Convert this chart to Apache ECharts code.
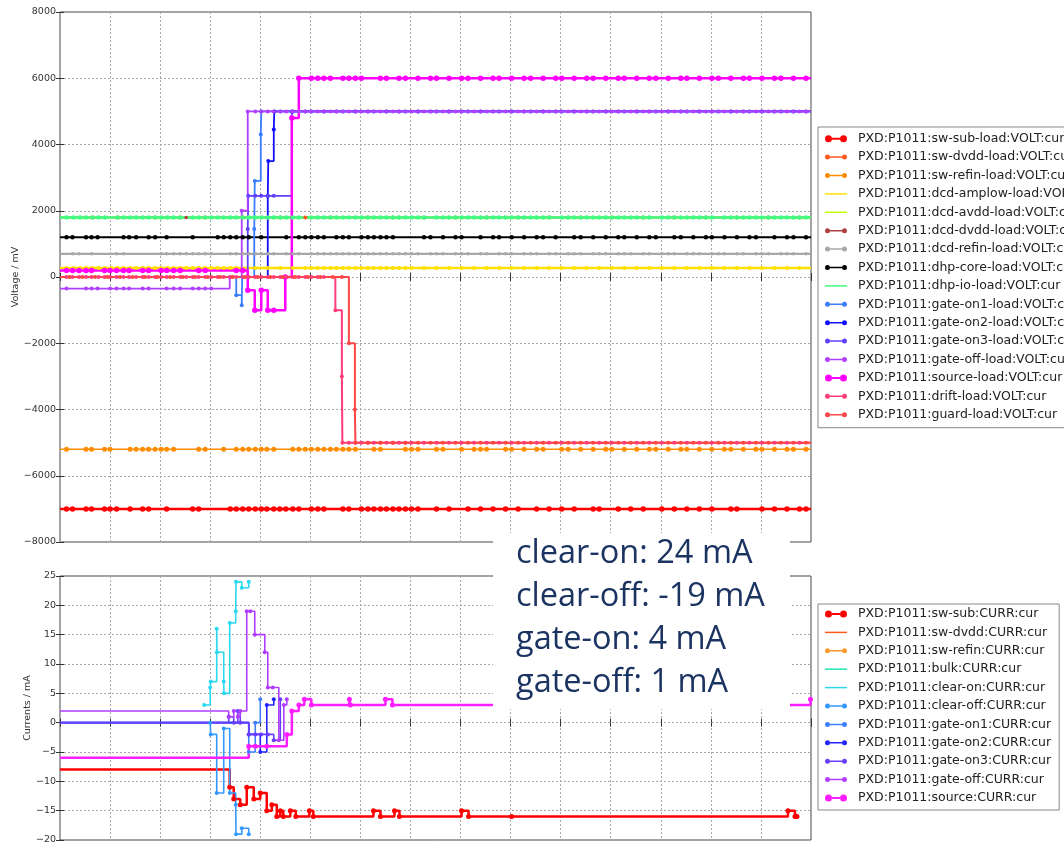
<!DOCTYPE html>
<html>
<head>
<meta charset="utf-8">
<script src="https://cdn.jsdelivr.net/npm/echarts@6/dist/echarts.min.js"></script>
<style>
html,body{margin:0;padding:0;background:#fff;}
#chart{width:1064px;height:846px;}
</style>
</head>
<body>
<div id="chart"></div>
<script>
// Time axis runs in grid divisions (0..15); its labels are hidden.
const X_MIN = 0, X_MAX = 15;

// ---------- Voltage channels (mV): runs of [level, sample times] ----------
const swSubVolt = [[-7000, [0,0.13,0.25,0.52,0.63,0.89,1.0,1.13,1.4,1.65,1.77,2.13,2.65,2.77,3.4,3.52,3.65,3.77,3.9,4.02,4.13,4.27,4.39,4.51,4.65,4.77,5.02,5.15,5.27,5.65,5.77,6.02,6.15,6.27,6.4,6.52,6.65,6.77,6.9,7.02,7.15,7.52,7.77,8.15,8.4,8.65,8.9,9.15,9.52,9.77,10.02,10.27,10.65,10.77,11.15,11.4,11.65,12.02,12.27,12.52,12.77,13.02,13.4,13.52,14.02,14.27,14.52,14.77,14.9]]];
const swDvddVolt = [[1800, [0,0.65,1.15,1.9,2.4,2.9,3.65,4.4,4.9,5.4,6.15,6.65,7.27,7.9,8.52,9.15,9.77,10.4,11.02,11.65,12.27,12.9,13.52,14.15,14.77]]];
const swRefinVolt = [[-5200, [0,0.13,0.52,0.63,0.89,1.0,1.4,1.52,1.65,1.77,1.9,2.02,2.13,2.27,2.77,2.9,3.27,3.52,3.65,3.77,3.9,4.02,4.13,4.27,4.65,4.77,4.9,5.02,5.15,5.27,5.4,5.52,5.65,5.77,5.9,6.27,6.4,6.9,7.02,7.15,7.52,7.65,8.02,8.27,8.4,8.52,8.9,9.02,9.27,9.52,9.65,10.02,10.15,10.4,10.65,10.9,11.02,11.27,11.52,11.77,11.9,12.15,12.4,12.52,12.77,13.02,13.27,13.4,13.65,13.9,14.02,14.27,14.52,14.65,14.9]]];
const dcdAmplowVolt = [[270, [0,0.13,0.27,0.4,0.52,0.65,0.77,0.9,1.02,1.15,1.27,1.4,1.52,1.65,1.77,1.9,2.02,2.15,2.27,2.4,2.52,2.65,2.77,2.9,3.02,3.15,3.27,3.4,3.52,3.9,4.15,4.4,4.65,4.9,5.02,5.15,5.27,5.4,5.52,5.65,5.77,5.9,6.02,6.15,6.27,6.4,6.52,6.65,6.77,6.9,7.02,7.27,7.52,7.77,8.02,8.27,8.52,8.77,9.02,9.27,9.52,9.77,10.02,10.27,10.52,10.77,11.02,11.27,11.52,11.77,12.02,12.27,12.52,12.77,13.02,13.27,13.52,13.77,14.02,14.27,14.52,14.77]]];
const dcdAvddVolt = [[1800, [0,0.4,1.27,2.15,3.02,3.9,4.65,5.52,6.4,7.15,8.02,8.9,9.65,10.52,11.4,12.15,13.02,13.9,14.65]]];
const dcdDvddVolt = [[1800, [0,0.9,1.65,2.52,3.4,4.27,5.15,5.9,6.77,7.65,8.4,9.27,10.15,10.9,11.77,12.65,13.4,14.27]]];
const dcdRefinVolt = [[700, [0,0.25,0.38,0.63,1.13,1.27,2.02,2.13,2.27,2.4,2.52,2.65,2.77,2.9,3.02,3.4,3.52,3.65,3.77,3.9,4.02,4.15,4.27,4.52,4.65,4.77,5.02,5.15,5.27,5.4,5.52,5.65,5.77,5.9,6.02,6.15,6.27,6.4,6.52,6.65,6.77,6.9,7.02,7.15,7.4,7.52,7.65,7.9,8.02,8.15,8.4,8.52,8.77,8.9,9.02,9.27,9.4,9.52,9.77,9.9,10.15,10.27,10.4,10.65,10.77,10.9,11.15,11.27,11.4,11.65,11.77,12.02,12.15,12.27,12.52,12.65,12.77,13.02,13.15,13.27,13.52,13.65,13.9,14.02,14.15,14.4,14.52,14.65,14.9]]];
const dhpCoreVolt = [[1200, [0,0.13,0.25,0.52,0.63,0.75,1.27,1.38,1.52,1.77,1.9,2.13,2.65,3.15,3.27,3.4,3.52,3.65,3.77,4.02,4.52,4.77,4.9,5.02,5.15,5.27,5.52,5.65,5.77,6.02,6.15,6.27,6.4,6.52,6.65,7.27,7.4,7.65,7.9,8.02,8.4,8.65,8.77,9.02,9.27,9.52,9.65,9.9,10.27,10.4,10.65,10.9,11.15,11.27,11.52,11.77,11.9,12.27,12.4,12.65,12.9,13.02,13.27,13.52,13.77,13.9,14.27,14.52,14.65,14.9]]];
const dhpIoVolt = [[1800, [0,0.13,0.27,0.4,0.52,0.65,0.77,0.9,1.15,1.27,1.4,1.52,1.65,1.77,1.9,2.02,2.15,2.27,2.4,2.65,2.77,2.9,3.02,3.15,3.27,3.4,3.52,3.65,3.77,3.9,4.02,4.15,4.27,4.4,4.52,4.65,4.77,5.02,5.15,5.27,5.4,5.52,5.65,5.77,5.9,6.02,6.15,6.27,6.4,6.52,6.65,6.77,6.9,7.02,7.15,7.27,7.52,7.65,7.77,7.9,8.02,8.15,8.27,8.4,8.52,8.65,8.77,8.9,9.02,9.15,9.27,9.4,9.52,9.65,9.77,10.02,10.15,10.27,10.4,10.52,10.65,10.77,10.9,11.02,11.15,11.27,11.4,11.52,11.65,11.77,12.02,12.15,12.27,12.4,12.52,12.65,12.77,12.9,13.02,13.27,13.4,13.52,13.65,13.77,13.9,14.02,14.15,14.27,14.4,14.52,14.65,14.77,14.9]]];
const gateOn1Volt = [[0, [0]], [-550, [3.52]], [-850, [3.63]], [0, [3.64]], [1450, [3.88]], [2900, [3.89]], [4300, [4.01]], [5000, [4.02,4.4,5.02,5.65,6.27,6.9,7.52,8.15,8.77,9.4,10.02,10.65,11.27,11.9,12.52,13.15,13.77,14.4]]];
const gateOn2Volt = [[0, [0]], [2450, [4.15]], [3500, [4.16]], [4450, [4.27]], [5000, [4.28,4.65,5.27,5.9,6.52,7.15,7.77,8.4,9.02,9.65,10.27,10.9,11.52,12.15,12.77,13.4,14.02,14.65]]];
const gateOn3Volt = [[0, [0]], [1450, [3.75]], [2450, [3.76,3.9,4.02,4.15,4.27]], [5000, [4.63,4.9,5.52,6.15,6.77,7.4,8.02,8.65,9.27,9.9,10.52,11.15,11.77,12.4,13.02,13.65,14.27,14.9]]];
const gateOffVolt = [[-350, [0,0.13,0.52,0.63,0.75,1.0,1.13,1.27,1.38,1.65,1.77,2.13,2.27,2.4,2.65,2.77,2.9,3.02]], [0, [3.39]], [2000, [3.63]], [5000, [3.75,3.9,4.02,4.15,4.27,4.4,4.52,4.65,4.77,4.9,5.02,5.15,5.27,5.4,5.52,5.65,5.77,5.9,6.02,6.15,6.27,6.4,6.52,6.65,6.77,6.9,7.02,7.15,7.27,7.4,7.52,7.65,7.77,7.9,8.02,8.15,8.27,8.4,8.52,8.65,8.77,8.9,9.02,9.15,9.27,9.4,9.52,9.65,9.77,9.9,10.02,10.15,10.27,10.4,10.52,10.65,10.77,10.9,11.02,11.15,11.27,11.4,11.52,11.65,11.77,11.9,12.02,12.15,12.27,12.4,12.52,12.65,12.77,12.9,13.02,13.15,13.27,13.4,13.52,13.65,13.77,13.9,14.02,14.15,14.27,14.4,14.52,14.65,14.77,14.9]]];
const sourceVolt = [[200, [0,0.13,0.25,0.38,0.52,0.63,0.89,1.0,1.13,1.27,1.38,1.65,1.77,2.02,2.13,2.27,2.4,2.77,2.9,3.52,3.65]], [-400, [3.75]], [-1000, [3.89]], [-400, [4.02]], [-1000, [4.15,4.27]], [0, [4.5]], [4800, [4.63]], [6000, [4.77,5.02,5.15,5.27,5.4,5.65,5.77,5.9,6.02,6.4,6.52,6.77,6.9,7.15,7.4,7.52,7.77,8.02,8.15,8.4,8.65,8.77,9.02,9.27,9.4,9.65,9.9,10.02,10.27,10.52,10.65,10.9,11.15,11.27,11.52,11.77,11.9,12.15,12.4,12.52,12.77,13.02,13.15,13.4,13.65,13.77,14.02,14.27,14.4,14.65,14.9]]];
const driftVolt = [[0, [0,0.13,0.25,0.38,0.52,0.63,0.77,0.89,1.0,1.13,1.27,1.38,1.52,1.65,1.77,1.9,2.02,2.13,2.27,2.4,2.52,2.65,2.77,2.9,3.02,3.15,3.27,3.4,3.52,3.65,3.77,3.9,4.02,4.15,4.27,4.4,4.52,4.65,4.77,4.9,5.02,5.15,5.27]], [-1000, [5.5]], [-3000, [5.63]], [-5000, [5.64,5.77,5.9,6.02,6.15,6.27,6.4,6.52,6.65,6.77,6.9,7.02,7.27,7.52,7.77,8.02,8.27,8.52,8.77,9.02,9.27,9.52,9.77,10.02,10.27,10.52,10.77,11.02,11.27,11.52,11.77,12.02,12.27,12.52,12.77,13.02,13.27,13.52,13.77,14.02,14.27,14.52,14.77]]];
const guardVolt = [[0, [0,0.19,0.45,0.7,0.95,1.2,1.45,1.7,1.95,2.2,2.45,2.7,2.95,3.2,3.45,3.7,3.95,4.2,4.45,4.7,4.95,5.2,5.45,5.63]], [-2000, [5.77]], [-4000, [5.89]], [-5000, [5.9,6.15,6.4,6.65,6.9,7.15,7.4,7.65,7.9,8.15,8.4,8.65,8.9,9.15,9.4,9.65,9.9,10.15,10.4,10.65,10.9,11.15,11.4,11.65,11.9,12.15,12.4,12.65,12.9,13.15,13.4,13.65,13.9,14.15,14.4,14.65,14.9]]];

// ---------- Current channels (mA) ----------
const swSubCurr = [[-8, [0]], [-11, [3.39]], [-13, [3.47]], [-14, [3.6]], [-11, [3.73]], [-13, [3.87]], [-12, [4.0]], [-15, [4.13]], [-14, [4.23]], [-16, [4.33]], [-15, [4.4]], [-16, [4.46]], [-15, [4.6]], [-16, [4.71]], [-15, [4.98]], [-16, [5.06]], [-15, [6.26]], [-16, [6.4]], [-15, [6.68]], [-16, [6.78]], [-15, [8.02]], [-16, [8.16, 9.02]], [-15, [14.54]], [-16, [14.68, 14.72]]];
const swDvddCurr = [];
const swRefinCurr = [];
const bulkCurr = [];
const clearOnCurr = [[3, [2.88]], [6, [3.0]], [7, [3.01]], [16, [3.13]], [12, [3.135]], [7, [3.27]], [5, [3.275]], [17, [3.39]], [19, [3.51]], [24, [3.515]], [23, [3.63]], [24, [3.77]]];
const clearOffCurr = [[0, [3.0]], [-2, [3.01]], [-12, [3.13]], [-1, [3.27]], [-12, [3.39]], [-14, [3.51]], [-19, [3.515]], [-18, [3.63]], [-19, [3.77]]];
const gateOn1Curr = [[0, [0]], [-5, [3.77]], [0, [3.9]], [4, [4.0]]];
const gateOn2Curr = [[0, [0]], [-2, [3.77]], [-5, [4.0]], [3, [4.13]], [4, [4.27]]];
const gateOn3Curr = [[0, [0]], [1, [3.37]], [0, [3.47]], [2, [3.55]], [0, [3.6]], [-2, [3.77,3.9,4.02,4.15]], [-3, [4.27]], [4, [4.4]]];
const gateOffCurr = [[2, [0]], [1, [3.37]], [2, [3.47]], [1, [3.55]], [2, [3.6]], [19, [3.73,3.8]], [15, [3.89]], [12, [4.09]], [6, [4.15,4.25]], [-3, [4.37]], [3, [4.47]], [4, [4.53]]];
const sourceCurr = [[-6, [0]], [-4, [3.77,3.9,4.13]], [-2, [4.53]], [2, [4.63]], [3, [4.77]], [4, [4.88]], [3, [5.02]], [4, [5.78]], [3, [5.8]], [4, [6.5]], [3, [6.64]], [4, [14.99]]];

// ---------- Axis ticks ----------
const voltRange = {min: -8000, max: 8000, step: 2000};
const currRange = {min: -20, max: 25, step: 5};

// ---------- Annotation ----------
const noteLines = ['clear-on: 24 mA', 'clear-off: -19 mA', 'gate-on: 4 mA', 'gate-off: 1 mA'];

// Legend glyphs: line with end markers (large / small) or a bare line
const ICON_BIG = 'path://M0,4a3.5,3.5 0 1,0 7,0a3.5,3.5 0 1,0 -7,0Z M7,3L15,3L15,5L7,5Z M15,4a3.5,3.5 0 1,0 7,0a3.5,3.5 0 1,0 -7,0Z';
const ICON_SMALL = 'path://M0,4a2.5,2.5 0 1,0 5,0a2.5,2.5 0 1,0 -5,0Z M5,3.25L17,3.25L17,4.75L5,4.75Z M17,4a2.5,2.5 0 1,0 5,0a2.5,2.5 0 1,0 -5,0Z';
const ICON_LINE = 'path://M0,3.25L22,3.25L22,4.75L0,4.75Z';

const voltChannels = [
  ['PXD:P1011:sw-sub-load:VOLT:cur', '#ff0000', swSubVolt, 2.5, 5.5, ICON_BIG],
  ['PXD:P1011:sw-dvdd-load:VOLT:cur', '#ff5a1e', swDvddVolt, 1.5, 4, ICON_SMALL],
  ['PXD:P1011:sw-refin-load:VOLT:cur', '#ff8c00', swRefinVolt, 1.5, 5, ICON_SMALL],
  ['PXD:P1011:dcd-amplow-load:VOLT:cur', '#ffe000', dcdAmplowVolt, 2.5, 4, ICON_LINE],
  ['PXD:P1011:dcd-avdd-load:VOLT:cur', '#c0ff00', dcdAvddVolt, 1.5, 3.5, ICON_LINE],
  ['PXD:P1011:dcd-dvdd-load:VOLT:cur', '#b04040', dcdDvddVolt, 1.5, 3.5, ICON_SMALL],
  ['PXD:P1011:dcd-refin-load:VOLT:cur', '#a8a8a8', dcdRefinVolt, 2.2, 3.5, ICON_SMALL],
  ['PXD:P1011:dhp-core-load:VOLT:cur', '#000000', dhpCoreVolt, 1.8, 4.5, ICON_SMALL],
  ['PXD:P1011:dhp-io-load:VOLT:cur', '#40ff80', dhpIoVolt, 2.5, 4.5, ICON_LINE],
  ['PXD:P1011:gate-on1-load:VOLT:cur', '#3c7cff', gateOn1Volt, 1.8, 4, ICON_SMALL],
  ['PXD:P1011:gate-on2-load:VOLT:cur', '#1010ff', gateOn2Volt, 1.8, 4, ICON_SMALL],
  ['PXD:P1011:gate-on3-load:VOLT:cur', '#6040ff', gateOn3Volt, 1.8, 4, ICON_SMALL],
  ['PXD:P1011:gate-off-load:VOLT:cur', '#b040ff', gateOffVolt, 1.8, 4, ICON_SMALL],
  ['PXD:P1011:source-load:VOLT:cur', '#ff00ff', sourceVolt, 2.5, 5.5, ICON_BIG],
  ['PXD:P1011:drift-load:VOLT:cur', '#ff3c78', driftVolt, 2, 4, ICON_SMALL],
  ['PXD:P1011:guard-load:VOLT:cur', '#ff4646', guardVolt, 2, 4, ICON_SMALL]
];
const currChannels = [
  ['PXD:P1011:sw-sub:CURR:cur', '#ff0000', swSubCurr, 2.5, 5, ICON_BIG],
  ['PXD:P1011:sw-dvdd:CURR:cur', '#ff5a1e', swDvddCurr, 1.5, 4, ICON_LINE],
  ['PXD:P1011:sw-refin:CURR:cur', '#ff9a2a', swRefinCurr, 1.5, 4, ICON_SMALL],
  ['PXD:P1011:bulk:CURR:cur', '#1ee6b4', bulkCurr, 1.5, 4, ICON_LINE],
  ['PXD:P1011:clear-on:CURR:cur', '#2ad8f0', clearOnCurr, 1.6, 4, ICON_LINE],
  ['PXD:P1011:clear-off:CURR:cur', '#3399ff', clearOffCurr, 1.6, 4, ICON_SMALL],
  ['PXD:P1011:gate-on1:CURR:cur', '#3f7fff', gateOn1Curr, 1.6, 4, ICON_SMALL],
  ['PXD:P1011:gate-on2:CURR:cur', '#2222ff', gateOn2Curr, 1.6, 4, ICON_SMALL],
  ['PXD:P1011:gate-on3:CURR:cur', '#6a3cff', gateOn3Curr, 1.6, 4, ICON_SMALL],
  ['PXD:P1011:gate-off:CURR:cur', '#b03cff', gateOffCurr, 1.6, 4, ICON_SMALL],
  ['PXD:P1011:source:CURR:cur', '#ff1eff', sourceCurr, 2.5, 5, ICON_BIG]
];

// Flatten runs into [t, value] points; the trace holds on to the right edge when asked.
function toPoints(runs, holdToEdge) {
  const pts = [];
  runs.forEach(([v, ts]) => ts.forEach(t => pts.push([t, v])));
  if (holdToEdge && pts.length) pts.push([X_MAX, pts[pts.length - 1][1]]);
  return pts.map(p => (p[0] === X_MIN || p[0] === X_MAX) ? {value: p, symbol: 'none'} : p);
}

function stepSeries(ch, axisIdx, holdToEdge) {
  const [name, color, runs, width, size] = ch;
  return {
    name, type: 'line', step: 'end',
    xAxisIndex: axisIdx, yAxisIndex: axisIdx,
    data: toPoints(runs, holdToEdge),
    symbol: 'circle', symbolSize: size, showSymbol: true, showAllSymbol: true,
    lineStyle: {color, width}, itemStyle: {color},
    emphasis: {disabled: true}, animation: false, clip: true
  };
}

const minus = v => (v < 0 ? '\u2212' + Math.abs(v) : String(v));
const tickFont = {fontFamily: 'DejaVu Sans', fontSize: 9.5, color: '#333'};
const gridDash = {color: '#a8a8a8', width: 1, type: [2, 2]};

// Each grid gets a bottom/left axis (labels, grid lines) and a mirrored top/right axis (ticks only).
function xAxes(gi) {
  const base = {gridIndex: gi, type: 'value', min: X_MIN, max: X_MAX, interval: 1,
    axisLabel: {show: false}, axisLine: {show: false},
    axisTick: {show: true, inside: true, length: 4, lineStyle: {color: '#333'}}};
  return [
    Object.assign({}, base, {position: 'bottom', splitLine: {show: true, lineStyle: gridDash}}),
    Object.assign({}, base, {position: 'top', splitLine: {show: false}})
  ];
}
function yAxes(gi, r, title, gap) {
  const base = {gridIndex: gi, type: 'value', min: r.min, max: r.max, interval: r.step,
    axisLine: {show: false},
    axisTick: {show: true, inside: true, length: 4, lineStyle: {color: '#333'}}};
  return [
    Object.assign({}, base, {position: 'left',
      axisLabel: Object.assign({formatter: minus, margin: 4}, tickFont),
      splitLine: {show: true, lineStyle: gridDash},
      name: title, nameLocation: 'middle', nameGap: gap, nameMoveOverlap: false,
      nameTextStyle: {fontFamily: 'DejaVu Sans', fontSize: 9.5, color: '#333'}}),
    Object.assign({}, base, {position: 'right', axisLabel: {show: false}, splitLine: {show: false}})
  ];
}

const legendBase = {
  orient: 'vertical', left: 818, itemWidth: 22, itemHeight: 8, itemGap: 4.4,
  selectedMode: false, backgroundColor: '#fff', borderColor: '#888', borderWidth: 1, borderRadius: 0,
  textStyle: {fontFamily: 'DejaVu Sans', fontSize: 12.5, color: '#222', lineHeight: 14, padding: [0, 0, 0, 6]}
};

const chart = echarts.init(document.getElementById('chart'), null, {renderer: 'canvas'});
chart.setOption({
  animation: false,
  backgroundColor: '#fff',
  grid: [
    {left: 60, top: 12, width: 751, height: 530, show: true, borderColor: '#444', borderWidth: 1, outerBoundsMode: 'none', containLabel: false},
    {left: 60, top: 576, width: 751, height: 264, show: true, borderColor: '#444', borderWidth: 1, outerBoundsMode: 'none', containLabel: false}
  ],
  xAxis: [].concat(xAxes(0), xAxes(1)),
  yAxis: [].concat(yAxes(0, voltRange, 'Voltage / mV', 39), yAxes(1, currRange, 'Currents / mA', 27)),
  legend: [
    Object.assign({}, legendBase, {top: 127, padding: [4.7, 8, 6, 7],
      data: voltChannels.map(c => ({name: c[0], icon: c[5]}))}),
    Object.assign({}, legendBase, {top: 604, padding: [3, 8, 5, 7],
      data: currChannels.map(c => ({name: c[0], icon: c[5]}))})
  ],
  series: [].concat(
    voltChannels.map(c => stepSeries(c, 0, true)),
    currChannels.map(c => stepSeries(c, 2, c[0].indexOf('source') >= 0))
  ),
  graphic: [
    {type: 'rect', z: 100, shape: {x: 493, y: 533, width: 297, height: 176}, style: {fill: '#fff'}}
  ].concat(noteLines.map((t, i) => ({
    type: 'text', z: 101, x: 516, y: 554 + i * 43,
    style: {text: t, font: '32.5px "Open Sans"', fill: '#1c3461', verticalAlign: 'middle'}
  })))
});
</script>
</body>
</html>
